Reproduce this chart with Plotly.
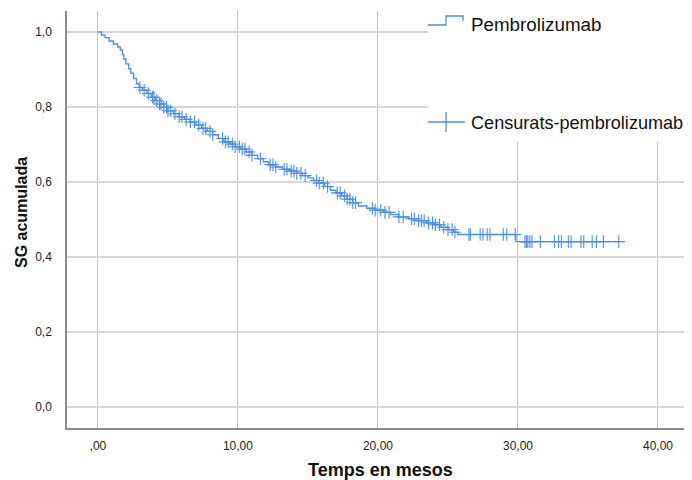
import numpy as np
import plotly.graph_objects as go

# Kaplan-Meier step data (time in months, cumulative survival after event)
event_times = [0.25, 0.5, 0.8, 1.1, 1.4, 1.6, 1.75, 1.85, 2.0, 2.2, 2.35, 2.55, 2.75, 2.95,
               3.2, 3.5, 3.8, 4.1, 4.4, 4.7, 5.0, 5.4, 5.8, 6.2, 6.6, 7.0, 7.4, 7.8, 8.2,
               8.6, 9.0, 9.4, 9.8, 10.2, 10.6, 11.0, 11.4, 11.8, 12.2, 12.7, 13.2, 13.7,
               14.2, 14.6, 15.0, 15.4, 15.8, 16.2, 16.6, 17.0, 17.4, 17.8, 18.2, 18.6,
               19.2, 19.8, 20.4, 20.9, 21.5, 22.2, 22.9, 23.5, 24.0, 24.5, 25.0, 25.4,
               25.7, 29.85]
survival = [0.992, 0.985, 0.976, 0.968, 0.960, 0.952, 0.940, 0.928, 0.915, 0.902, 0.890,
            0.876, 0.862, 0.852, 0.845, 0.836, 0.826, 0.817, 0.808, 0.799, 0.790, 0.782,
            0.774, 0.767, 0.760, 0.752, 0.743, 0.735, 0.726, 0.716, 0.707, 0.701, 0.694,
            0.688, 0.680, 0.671, 0.662, 0.654, 0.646, 0.640, 0.634, 0.629, 0.623, 0.617,
            0.611, 0.604, 0.597, 0.588, 0.578, 0.571, 0.563, 0.554, 0.545, 0.536, 0.530,
            0.525, 0.519, 0.513, 0.507, 0.502, 0.497, 0.491, 0.486, 0.479, 0.473, 0.466,
            0.460, 0.441]
end_time = 37.2

censor_times = [3.0, 3.3, 3.6, 3.9, 4.0, 4.2, 4.4, 4.5, 4.7, 4.9, 5.0, 5.2, 5.5, 5.8, 6.0,
                6.3, 6.6, 6.9, 7.2, 7.5, 7.7, 8.0, 8.2, 8.9, 9.1, 9.3, 9.6, 9.8, 10.1,
                10.3, 10.5, 10.8, 11.0, 11.6, 12.3, 12.5, 12.7, 13.3, 13.5, 13.8, 14.0,
                14.2, 14.5, 14.8, 15.6, 15.8, 16.1, 16.4, 17.1, 17.3, 17.6, 17.8, 18.0,
                18.2, 18.4, 19.6, 19.8, 20.2, 20.5, 20.8, 21.5, 21.8, 22.4, 22.6, 22.9,
                23.1, 23.3, 23.6, 23.9, 24.1, 24.4, 24.7, 25.0, 25.3, 25.5,
                26.5, 26.6, 27.3, 27.5, 27.8, 28.0, 28.95, 29.2, 29.8,
                30.5, 30.6, 30.7, 30.85, 31.0, 31.6, 32.6, 32.9, 33.1, 33.6, 33.8,
                34.5, 34.7, 35.3, 35.6, 36.1, 37.2]

x_tickvals = [0, 10, 20, 30, 40]
x_ticktext = [",00", "10,00", "20,00", "30,00", "40,00"]
y_tickvals = [0.0, 0.2, 0.4, 0.6, 0.8, 1.0]
y_ticktext = ["0,0", "0,2", "0,4", "0,6", "0,8", "1,0"]

series_name = "Pembrolizumab"
censor_name = "Censurats-pembrolizumab"
x_title = "Temps en mesos"
y_title = "SG acumulada"

BLUE = "#4a8fe2"
FONT = "Liberation Sans, Arial, sans-serif"

step_x = [0.0] + event_times + [end_time]
step_y = [1.0] + survival + [survival[-1]]

et = np.array(event_times)
sv = np.array(survival)
def surv_at(t):
    idx = np.searchsorted(et, t, side="right") - 1
    return 1.0 if idx < 0 else float(sv[idx])
censor_y = [surv_at(t) for t in censor_times]

fig = go.Figure()
fig.add_trace(go.Scatter(x=step_x, y=step_y, mode="lines", line=dict(color=BLUE, width=1.3, shape="hv"),
                         name=series_name, showlegend=False, hoverinfo="skip"))
fig.add_trace(go.Scatter(x=censor_times, y=censor_y, mode="markers",
                         marker=dict(symbol="cross-thin", size=9, line=dict(color=BLUE, width=1.1)),
                         name=censor_name, showlegend=False))

# page has an 8px body margin; the figure is sized/offset to compensate
OFF = 8
W, H = 692 - OFF, 480 - OFF
ml, mr, mt, mb = 67 - OFF, 0, 11 - OFF, 480 - 428
pw, ph = W - ml - mr, H - mt - mb

def px(xp):  # page x -> paper
    return (xp - OFF - ml) / pw
def py(yp):  # page y -> paper
    return (H - mb - (yp - OFF)) / ph

fig.update_layout(
    width=W, height=H,
    margin=dict(l=ml, r=mr, t=mt, b=mb, pad=0),
    paper_bgcolor="white", plot_bgcolor="white",
    showlegend=False,
    xaxis=dict(range=[-2.21, 42.43], tickvals=x_tickvals, ticktext=x_ticktext,
               showgrid=True, gridcolor="#c4c4c4", gridwidth=1,
               showline=True, linecolor="#8c8c8c", linewidth=1.5, zeroline=False,
               ticks="", ticklabelstandoff=6,
               tickfont=dict(family=FONT, size=12, color="#222")),
    yaxis=dict(range=[-0.056, 1.056], tickvals=y_tickvals, ticktext=y_ticktext,
               showgrid=True, gridcolor="#d6d6d6", gridwidth=2,
               showline=True, linecolor="#8c8c8c", linewidth=1.5, zeroline=False,
               ticks="", ticklabelstandoff=11,
               tickfont=dict(family=FONT, size=12, color="#222")),
)

# legend area (white box over the grid)
fig.add_shape(type="rect", xref="paper", yref="paper", x0=px(428), x1=1.01, y0=py(142), y1=py(-5),
              fillcolor="white", line=dict(width=0), layer="above")
# legend icon: step line
fig.add_shape(type="path", xref="paper", yref="paper",
              path=f"M {px(428)},{py(25)} L {px(446)},{py(25)} L {px(446)},{py(16)} L {px(463)},{py(16)} L {px(463)},{py(21)}",
              line=dict(color=BLUE, width=1.3), layer="above")
# legend icon: censor
fig.add_shape(type="line", xref="paper", yref="paper", x0=px(428), x1=px(465), y0=py(122), y1=py(122),
              line=dict(color=BLUE, width=1.3), layer="above")
fig.add_shape(type="line", xref="paper", yref="paper", x0=px(446), x1=px(446), y0=py(112), y1=py(132),
              line=dict(color=BLUE, width=1.3), layer="above")

fig.add_annotation(text=series_name, xref="paper", yref="paper", x=px(469), y=py(24),
                   xanchor="left", yanchor="middle", showarrow=False,
                   font=dict(family=FONT, size=18.8, color="#111"))
fig.add_annotation(text=censor_name, xref="paper", yref="paper", x=px(469), y=py(123),
                   xanchor="left", yanchor="middle", showarrow=False,
                   font=dict(family=FONT, size=18.1, color="#111"))

# axis titles
fig.add_annotation(text=f"<b>{x_title}</b>", xref="paper", yref="paper", x=px(380), y=py(470),
                   xanchor="center", yanchor="middle", showarrow=False,
                   font=dict(family=FONT, size=18, color="#111"))
fig.add_annotation(text=f"<b>{y_title}</b>", xref="paper", yref="paper", x=px(21), y=py(213),
                   xanchor="center", yanchor="middle", showarrow=False, textangle=-90,
                   font=dict(family=FONT, size=16, color="#111"))

fig.write_html("out.html")
